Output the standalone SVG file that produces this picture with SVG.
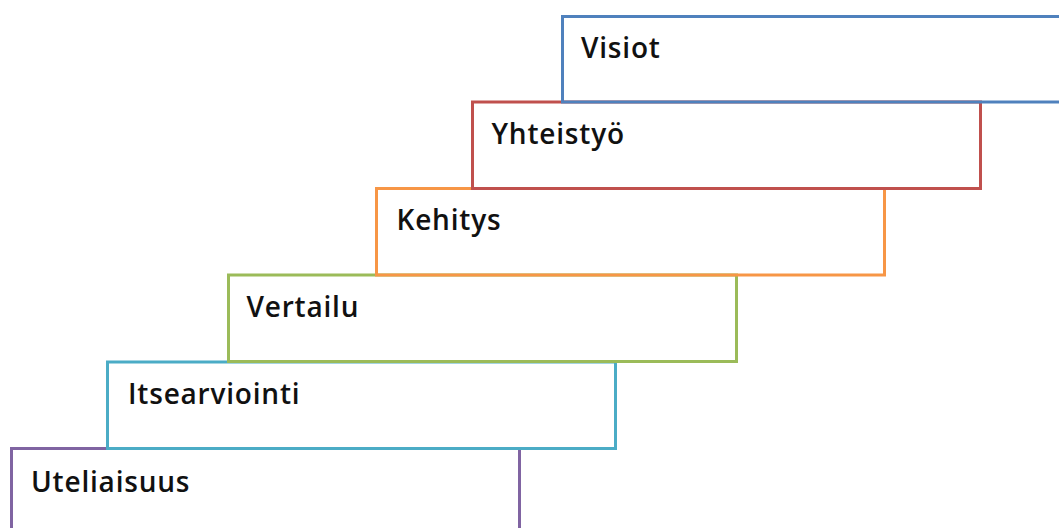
<svg xmlns="http://www.w3.org/2000/svg" width="1059" height="528" viewBox="0 0 1059 528">
<style>
.box{fill:none;stroke-width:3}
.lbl{font-family:"Open Sans","Noto Sans","DejaVu Sans",sans-serif;font-weight:600;font-size:28px;letter-spacing:0.8px;fill:#111}
</style>
<rect width="1059" height="528" fill="#fff"/>
<g id="uteliaisuus"><rect class="box" x="11.5" y="448.5" width="508" height="90" stroke="#8064A2"/><text class="lbl" x="31" y="491.5">Uteliaisuus</text></g>
<g id="itsearviointi"><rect class="box" x="107.5" y="362" width="508" height="86.5" stroke="#4BACC6"/><text class="lbl" x="128" y="403.5">Itsearviointi</text></g>
<g id="vertailu"><rect class="box" x="228.5" y="275" width="508" height="86.5" stroke="#9BBB59"/><text class="lbl" x="246.5" y="316.5">Vertailu</text></g>
<g id="kehitys"><rect class="box" x="376.5" y="188.5" width="508" height="86.5" stroke="#F79646"/><text class="lbl" x="396.5" y="229.5">Kehitys</text></g>
<g id="yhteistyo"><rect class="box" x="472.5" y="102" width="508" height="86.5" stroke="#C0504D"/><text class="lbl" x="491.5" y="143.5">Yhteistyö</text></g>
<g id="visiot"><rect class="box" x="562.5" y="16.5" width="508" height="85.5" stroke="#4F81BD"/><text class="lbl" x="581" y="58">Visiot</text></g>
<g id="connectors"/>
</svg>
